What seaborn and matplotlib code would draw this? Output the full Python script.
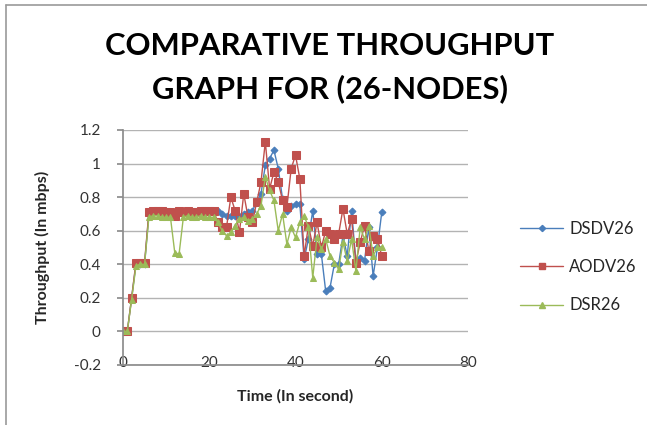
import matplotlib
matplotlib.use("Agg")
import matplotlib.pyplot as plt
import seaborn as sns
import pandas as pd
from matplotlib.lines import Line2D

time = list(range(0, 61))
dsdv26 = [0, 0, 0.20, 0.40, 0.40, 0.40, 0.70, 0.71, 0.71, 0.71, 0.70, 0.71, 0.70, 0.71, 0.70,
          0.71, 0.70, 0.70, 0.71, 0.71, 0.71, 0.72, 0.72, 0.70, 0.69, 0.69, 0.69, 0.69, 0.70,
          0.71, 0.72, 0.77, 0.82, 0.99, 1.03, 1.08, 0.97, 0.79, 0.72, 0.75, 0.76, 0.76, 0.43,
          0.55, 0.72, 0.46, 0.46, 0.24, 0.26, 0.40, 0.40, 0.57, 0.45, 0.72, 0.42, 0.44, 0.42,
          0.62, 0.33, 0.50, 0.71]
aodv26 = [0, 0, 0.20, 0.41, 0.41, 0.41, 0.71, 0.72, 0.72, 0.72, 0.71, 0.71, 0.69, 0.72, 0.71,
          0.72, 0.71, 0.71, 0.72, 0.72, 0.72, 0.72, 0.65, 0.62, 0.62, 0.80, 0.72, 0.59, 0.82,
          0.68, 0.65, 0.77, 0.89, 1.13, 0.85, 0.95, 0.89, 0.78, 0.74, 0.97, 1.05, 0.91, 0.45,
          0.63, 0.51, 0.65, 0.50, 0.60, 0.58, 0.55, 0.58, 0.73, 0.58, 0.67, 0.41, 0.53, 0.63,
          0.48, 0.57, 0.55, 0.45]
dsr26 = [0, 0, 0.19, 0.39, 0.40, 0.40, 0.68, 0.69, 0.69, 0.68, 0.68, 0.68, 0.47, 0.46, 0.68,
         0.69, 0.68, 0.68, 0.69, 0.68, 0.68, 0.68, 0.65, 0.60, 0.57, 0.59, 0.63, 0.67, 0.68,
         0.66, 0.67, 0.70, 0.75, 0.92, 0.84, 0.78, 0.60, 0.70, 0.52, 0.62, 0.56, 0.65, 0.69,
         0.62, 0.32, 0.56, 0.49, 0.55, 0.45, 0.41, 0.37, 0.53, 0.42, 0.55, 0.36, 0.62, 0.55,
         0.63, 0.45, 0.50, 0.50]
series_names = ["DSDV26", "AODV26", "DSR26"]
x_ticks = [0, 20, 40, 60, 80]
y_ticks = [-0.2, 0, 0.2, 0.4, 0.6, 0.8, 1, 1.2]
y_tick_labels = ["-0.2", "0", "0.2", "0.4", "0.6", "0.8", "1", "1.2"]

sns.set_theme(style="white")
plt.rcParams["font.family"] = ["Lato", "DejaVu Sans"]

fig = plt.figure(figsize=(6.47, 4.25), dpi=100)
ax = fig.add_axes([123/647, 1-365/425, (468-123)/647, (365-130)/425])

colors = ["#4A7EBB", "#C0504D", "#9BBB59"]
markers = ["D", "s", "^"]
msizes = [3.5, 5.5, 5]
for name, vals, c, m, ms in zip(series_names, [dsdv26, aodv26, dsr26], colors, markers, msizes):
    df = pd.DataFrame({"t": time, "v": vals})
    sns.lineplot(data=df, x="t", y="v", ax=ax, color=c, marker=m, markersize=ms,
                 markeredgecolor=c, linewidth=1.0, label=name)

ax.set_xlim(0, 80)
ax.set_ylim(-0.2, 1.2)
ax.set_xticks(x_ticks)
ax.set_yticks(y_ticks)
ax.set_yticklabels(y_tick_labels)
ax.grid(axis="y", color="#b3b3b3", linewidth=1)
ax.grid(axis="x", visible=False)
for s in ["top", "right"]:
    ax.spines[s].set_visible(False)
ax.spines["left"].set_color("#8c8c8c")
ax.spines["bottom"].set_color("#8c8c8c")
ax.tick_params(axis="y", labelsize=11, labelcolor="#333333", length=4, color="#8c8c8c",
               direction="out", left=True, pad=12)
ax.tick_params(axis="x", labelsize=11, labelcolor="#333333", length=0, pad=-1.5)
for lbl in ax.get_xticklabels():
    lbl.set_va("center")

ax.set_xlabel("Time (In second)", fontsize=11.5, fontweight="bold", labelpad=14)
ax.set_ylabel("Throughput (In mbps)", fontsize=11.5, fontweight="bold", labelpad=17)

fig.text(330/647, 1-46/425, "COMPARATIVE THROUGHPUT", ha="center", va="center",
         fontsize=22.3, fontweight="bold", color="black")
fig.text(330/647, 1-89/425, "GRAPH FOR (26-NODES)", ha="center", va="center",
         fontsize=22.3, fontweight="bold", color="black")

handles = [Line2D([0], [0], color=c, marker=m, markersize=ms*0.9, linewidth=1.0)
           for c, m, ms in zip(colors, markers, msizes)]
ax.legend(handles, series_names, loc="center left", bbox_to_anchor=(505/647, 1-267/425),
          bbox_transform=fig.transFigure, frameon=False, fontsize=12, labelspacing=1.35,
          handlelength=2.6, handletextpad=0.35)

# outer chart border (left and top)
fig.add_artist(Line2D([6/647, 6/647], [0, 1-5/425], color="#9a9a9a", linewidth=1.2,
                      transform=fig.transFigure))
fig.add_artist(Line2D([6/647, 1], [1-5/425, 1-5/425], color="#9a9a9a", linewidth=1.2,
                      transform=fig.transFigure))

fig.savefig("out.png", dpi=100)
